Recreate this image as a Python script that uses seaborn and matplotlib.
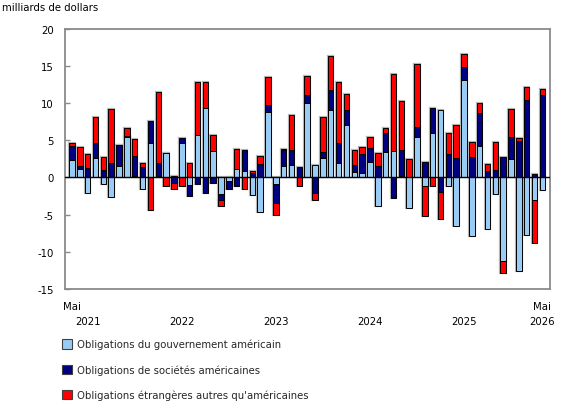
import numpy as np
import pandas as pd
import matplotlib
matplotlib.use("Agg")
import matplotlib.pyplot as plt
from matplotlib.patches import Patch
import seaborn as sns

# ---- data (milliards de dollars), mai 2021 -> mai 2026 ----
months = [str(p) for p in pd.period_range("2021-05", "2026-05", freq="M")]

gov = [2.4, 1.1, -2.1, 2.55, -0.9, -2.7, 1.5, 5.5, 0.15, -1.5,
       4.6, 0.2, 3.3, 0.25, 4.65, -1.0, 5.65, 9.3, 3.5, -2.25,
       -0.5, 1.1, 0.85, -2.4, -4.7, 8.85, -0.95, 1.6, 1.7, 0.1,
       10.05, 1.65, 2.65, 9.05, 2.0, 7.0, 0.75, 0.6, 2.1, -3.9,
       3.45, 3.6, 0.2, -4.1, 5.45, -1.2, 6.05, 9.15, -1.2, -6.55,
       13.15, -7.9, 4.2, -7.0, -2.3, -11.3, 2.5, -12.6, -7.8, -3.0,
       -1.7]
corp = [1.9, 0.4, 1.25, 2.05, 0.95, 2.0, 2.9, 0.05, 2.75, 1.35,
        3.05, 1.7, 0.0, -0.7, 0.6, -1.45, -0.95, -2.15, -0.8, -0.75,
        -1.05, -1.15, 2.85, 0.65, 1.75, 0.95, -2.55, 2.05, 1.95, 1.3,
        1.0, -2.1, 0.75, 2.75, 2.6, 2.05, 0.95, 2.5, 1.9, 1.5,
        2.55, -2.8, 3.5, 0.0, 1.3, 2.1, 3.25, -1.95, 3.2, 2.55,
        1.75, 2.8, 4.5, 0.8, 1.0, 2.7, 3.0, 4.85, 10.4, 0.45,
        11.05]
foreign = [0.4, 2.6, 1.9, 3.5, 1.75, 7.2, 0.0, 1.05, 2.3, 0.55,
           -4.4, 9.6, -1.1, -0.8, -1.2, 2.0, 7.2, 3.55, 2.2, -0.9,
           0.0, 2.7, -1.6, 0.15, 1.1, 3.7, -1.5, 0.15, 4.75, -1.15,
           2.55, -1.0, 4.7, 4.5, 8.2, 2.15, 2.05, 1.0, 1.4, 1.8,
           0.6, 10.4, 6.65, 2.45, 8.55, -4.0, -1.1, -3.6, 2.85, 4.55,
           1.7, 2.0, 1.3, 1.0, 3.8, -1.6, 3.7, 0.45, 1.8, -5.9,
           0.85]

series_names = ["Obligations du gouvernement américain",
                "Obligations de sociétés américaines",
                "Obligations étrangères autres qu'américaines"]
series_colors = ["#99CCF5", "#000080", "#FF0000"]

month_tick_pos = [0, 60]
month_tick_labels = ["Mai", "Mai"]
year_pos = [2, 14, 26, 38, 50, 60]
year_labels = ["2021", "2022", "2023", "2024", "2025", "2026"]
yticks = [-15, -10, -5, 0, 5, 10, 15, 20]

# ---- style ----
sns.set_theme(style="white")
plt.rcParams["font.family"] = ["DejaVu Sans"]
FS = 7.3

fig = plt.figure(figsize=(5.8, 4.1), dpi=100)
ax = fig.add_axes([0.1116, 0.2934, 0.9483 - 0.1116, 0.9268 - 0.2934])

idx = list(range(len(months)))
n = len(idx)
pos_base = np.zeros(n)
neg_base = np.zeros(n)
stacks = []
for vals in (gov, corp, foreign):
    v = np.array(vals, dtype=float)
    b = np.where(v >= 0, pos_base, neg_base)
    stacks.append((v, b.copy()))
    pos_base = pos_base + np.clip(v, 0, None)
    neg_base = neg_base + np.clip(v, None, 0)

# halo pass then main pass
for (v, b), c in zip(stacks, series_colors):
    df = pd.DataFrame({"mois": idx, "valeur": v})
    sns.barplot(data=df, x="mois", y="valeur", bottom=b, color=c, width=0.7,
                errorbar=None, edgecolor="#b5b5b5", linewidth=1.6,
                saturation=1, ax=ax, zorder=2)
for (v, b), c in zip(stacks, series_colors):
    df = pd.DataFrame({"mois": idx, "valeur": v})
    sns.barplot(data=df, x="mois", y="valeur", bottom=b, color=c, width=0.7,
                errorbar=None, edgecolor="black", linewidth=0.7,
                saturation=1, ax=ax, zorder=3)

ax.axhline(0, color="black", lw=1.0, zorder=4)

ax.set_xlim(-0.93, n - 1 + 0.97)
ax.set_ylim(-15, 20)
ax.set_yticks(yticks)
ax.set_yticklabels([str(t) for t in yticks])
ax.set_xticks(month_tick_pos)
ax.set_xticklabels(month_tick_labels, va="top")
ax.set_xlabel("")
ax.set_ylabel("")
ax.grid(False)

for p, lab in zip(year_pos, year_labels):
    ax.annotate(lab, xy=(p, 0), xycoords=("data", "axes fraction"),
                xytext=(0, -23.5), textcoords="offset points",
                ha="center", va="center", fontsize=FS, color="black")

for s in ax.spines.values():
    s.set_visible(True)
    s.set_color("#8a8a8a")
    s.set_linewidth(1.3)

ax.tick_params(axis="y", direction="in", length=3.5, width=1, color="#8a8a8a",
               labelsize=FS, labelcolor="black", pad=8, left=True)
ax.tick_params(axis="x", length=0, labelsize=FS, labelcolor="black", pad=9)

fig.text(0.004, 1 - 8 / 410, "milliards de dollars", fontsize=FS,
         ha="left", va="center", color="black")

handles = [Patch(facecolor=c, edgecolor="#404040", linewidth=0.8) for c in series_colors]
fig.legend(handles, series_names, loc="upper left",
           bbox_to_anchor=(62 / 580, 1 - 340 / 410), frameon=False,
           fontsize=FS, handlelength=1.0, handleheight=1.0,
           handletextpad=0.5, labelspacing=1.45, borderpad=0, borderaxespad=0)

fig.savefig("out.png", dpi=100)
